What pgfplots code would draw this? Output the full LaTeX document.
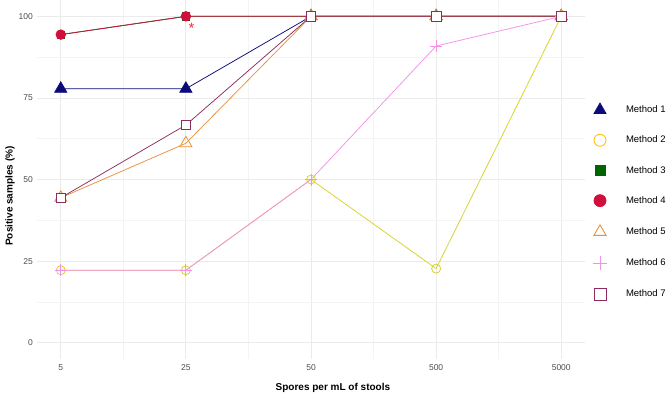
\documentclass[border=0pt]{standalone}
\usepackage{fontspec}
\setmainfont{Liberation Sans}
\usepackage{pgfplots}
\pgfplotsset{compat=1.18}

\definecolor{mone}{HTML}{0A0A78}
\definecolor{mtwo}{HTML}{D8D12A}
\definecolor{mtwoleg}{HTML}{FFC010}
\definecolor{mthree}{HTML}{006400}
\definecolor{mfour}{HTML}{D0103A}
\definecolor{mfive}{HTML}{E8913A}
\definecolor{msix}{HTML}{F590E8}
\definecolor{mseven}{HTML}{8B2D5E}
\definecolor{gridmaj}{HTML}{EBEBEB}
\definecolor{gridmin}{HTML}{F4F4F4}
\definecolor{ticktext}{HTML}{4D4D4D}

\begin{document}
\begin{tikzpicture}
\useasboundingbox (-37pt,-33pt) rectangle (630pt,359pt);
\begin{axis}[
  at={(0pt,0pt)}, anchor=south west,
  scale only axis, width=548pt, height=359pt,
  xmin=-0.19, xmax=4.19, ymin=-5, ymax=105,
  axis line style={draw=none},
  major tick length=0pt, minor tick length=0pt,
  xtick={0,1,2,3,4}, xticklabels={5,25,50,500,5000},
  minor xtick={0.5,1.5,2.5,3.5},
  ytick={0,25,50,75,100},
  minor ytick={12.5,37.5,62.5,87.5},
  grid=both,
  major grid style={color=gridmaj, line width=0.8pt},
  minor grid style={color=gridmin, line width=0.5pt},
  /pgf/number format/assume math mode=true,
  tick label style={font=\fontsize{8.5}{10}\selectfont, text=ticktext, inner sep=0pt},
  xticklabel style={anchor=north, yshift=-5.5pt},
  yticklabel style={anchor=east, xshift=-4pt},
  xlabel={Spores per mL of stools},
  ylabel={Positive samples (\%)},
  label style={font=\fontsize{10}{12}\selectfont\bfseries},
  xlabel style={at={(axis description cs:0.540,0)}, anchor=center, yshift=-28.5pt},
  ylabel style={at={(axis description cs:-0.0493,0.454)}, anchor=center},
  legend image code/.code={\draw[#1] plot coordinates {(0pt,0pt)};},
  legend cell align=left,
  legend style={
    at={(axis description cs:1,0.713)}, anchor=north west, xshift=8pt,
    draw=none, fill=none, inner sep=0pt, outer sep=0pt,
    font=\fontsize{9.5}{11}\selectfont,
    row sep=18.2pt,
    nodes={inner sep=0pt, minimum height=12pt},
    /tikz/every odd column/.append style={column sep=19pt},
  },
  every axis plot/.append style={line width=0.75pt},
]

% legend keys
\addlegendimage{only marks, mark=triangle*, mark size=7pt, color=mone}
\addlegendentry{Method 1}
\addlegendimage{only marks, mark=o, mark size=6pt, mark options={line width=0.9pt}, color=mtwoleg}
\addlegendentry{Method 2}
\addlegendimage{only marks, mark=square*, mark size=5pt, color=mthree}
\addlegendentry{Method 3}
\addlegendimage{only marks, mark=*, mark size=6pt, color=mfour}
\addlegendentry{Method 4}
\addlegendimage{only marks, mark=triangle, mark size=7pt, mark options={line width=0.9pt}, color=mfive}
\addlegendentry{Method 5}
\addlegendimage{only marks, mark=+, mark size=7pt, mark options={line width=0.9pt}, color=msix}
\addlegendentry{Method 6}
\addlegendimage{only marks, mark=square, mark size=6pt, mark options={line width=0.9pt}, color=mseven}
\addlegendentry{Method 7}

% series
\addplot[color=mone, mark=triangle*, mark size=7pt, forget plot]
  coordinates {(0,77.8) (1,77.8) (2,100) (3,100) (4,100)};
\addplot[color=mtwo, mark=o, mark size=4.5pt, mark options={line width=0.8pt}, forget plot]
  coordinates {(0,22.2) (1,22.2) (2,50) (3,22.7) (4,100)};
\addplot[color=mthree, mark=square*, mark size=3.7pt, forget plot]
  coordinates {(0,94.4) (1,100) (2,100) (3,100) (4,100)};
\addplot[color=mfour, mark=*, mark size=4.8pt, forget plot]
  coordinates {(0,94.4) (1,100) (2,100) (3,100) (4,100)};
\addplot[color=mfive, mark=triangle, mark size=7pt, mark options={line width=0.8pt}, forget plot]
  coordinates {(0,44.4) (1,61.1) (2,100) (3,100) (4,100)};
\addplot[color=msix, mark=+, mark size=6pt, mark options={line width=0.8pt}, forget plot]
  coordinates {(0,22.2) (1,22.2) (2,50) (3,90.9) (4,100)};
\addplot[color=mseven, mark=square*, mark size=4.8pt, mark options={fill=white, draw=mseven, line width=0.8pt}, forget plot]
  coordinates {(0,44.4) (1,66.7) (2,100) (3,100) (4,100)};

\node[text=red!85!white, font=\fontsize{15}{16}\selectfont, inner sep=0pt] at (axis cs:1.045,96.3) {*};
\end{axis}
\end{tikzpicture}
\end{document}
